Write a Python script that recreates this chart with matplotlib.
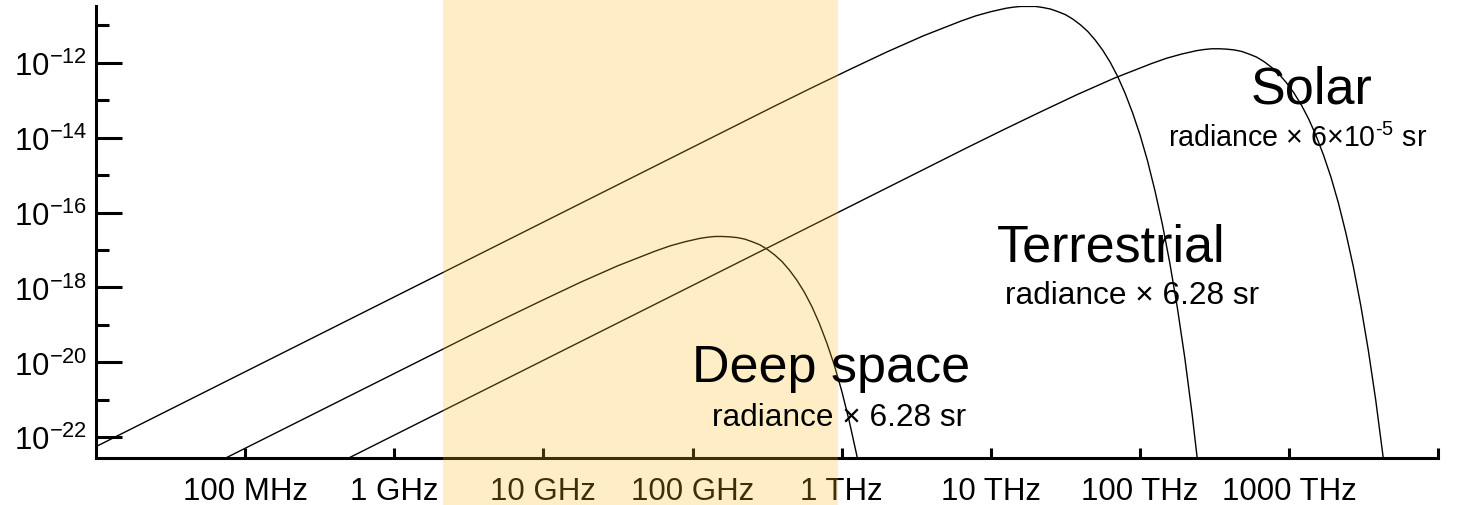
import matplotlib
matplotlib.use("Agg")
import numpy as np
import matplotlib.pyplot as plt
from matplotlib.ticker import FixedLocator, NullLocator, NullFormatter

plt.rcParams.update({
    "font.family": ["Liberation Sans", "DejaVu Sans"],
    "mathtext.fontset": "custom",
    "mathtext.rm": "Liberation Sans",
    "mathtext.it": "Liberation Sans:italic",
    "mathtext.bf": "Liberation Sans:bold",
    "mathtext.default": "regular",
})

# ----------------------------------------------------------------------
# Values (log10 frequency [Hz], log10 spectral value)
# ----------------------------------------------------------------------
deep_lognu = [7.00, 9.25, 9.50, 9.75, 10.00, 10.25, 10.50, 10.75, 10.85, 10.95,
              11.05, 11.10, 11.15, 11.20, 11.25, 11.30, 11.35, 11.40, 11.45,
              11.50, 11.55, 11.60, 11.65, 11.70, 11.75, 11.80, 11.85, 11.90,
              11.95, 12.00, 12.05, 12.10, 12.15]
deep_logval = [-24.29, -19.80, -19.30, -18.81, -18.33, -17.86, -17.42, -17.03,
               -16.89, -16.78, -16.69, -16.66, -16.64, -16.64, -16.65, -16.67,
               -16.71, -16.78, -16.86, -16.98, -17.13, -17.31, -17.54, -17.81,
               -18.13, -18.51, -18.96, -19.48, -20.07, -20.76, -21.56, -22.46,
               -23.50]

terr_lognu = [7.00, 11.30, 11.55, 11.80, 12.05, 12.30, 12.55, 12.80, 12.90,
              13.00, 13.10, 13.15, 13.20, 13.25, 13.30, 13.35, 13.40, 13.45,
              13.50, 13.55, 13.60, 13.65, 13.70, 13.75, 13.80, 13.85, 13.90,
              13.95, 14.00, 14.05, 14.10, 14.15, 14.20, 14.25, 14.30, 14.35,
              14.40]
terr_logval = [-22.25, -13.66, -13.16, -12.67, -12.19, -11.72, -11.28, -10.89,
               -10.75, -10.64, -10.55, -10.52, -10.50, -10.50, -10.50, -10.53,
               -10.57, -10.64, -10.72, -10.84, -10.99, -11.17, -11.40, -11.67,
               -11.99, -12.37, -12.82, -13.34, -13.93, -14.62, -15.42, -16.32,
               -17.36, -18.54, -19.88, -21.41, -23.14]

solar_lognu = [7.00, 12.58, 12.83, 13.08, 13.33, 13.58, 13.83, 14.08, 14.18,
               14.28, 14.38, 14.43, 14.48, 14.53, 14.58, 14.63, 14.68, 14.73,
               14.78, 14.83, 14.88, 14.93, 14.98, 15.03, 15.08, 15.13, 15.18,
               15.23, 15.28, 15.33, 15.38, 15.43, 15.48, 15.53, 15.58, 15.63,
               15.68]
solar_logval = [-25.94, -14.79, -14.29, -13.80, -13.32, -12.85, -12.41, -12.02,
                -11.88, -11.77, -11.68, -11.65, -11.63, -11.63, -11.64, -11.66,
                -11.70, -11.77, -11.85, -11.97, -12.12, -12.30, -12.53, -12.80,
                -13.12, -13.50, -13.95, -14.47, -15.06, -15.75, -16.55, -17.45,
                -18.49, -19.67, -21.01, -22.54, -24.27]

band_lognu = [9.33, 11.975]          # shaded band

x_tick_exp = [8, 9, 10, 11, 12, 13, 14, 15, 16]
x_tick_labels = ["100 MHz", "1 GHz", "10 GHz", "100 GHz", "1 THz",
                 "10 THz", "100 THz", "1000 THz", ""]
y_major_exp = [-22, -20, -18, -16, -14, -12]
y_minor_exp = [-21, -19, -17, -15, -13, -11]

# ----------------------------------------------------------------------
fig = plt.figure(figsize=(14.7, 5.06), dpi=100)
ax = fig.add_axes([0.0652, 0.0923, 0.9133, 0.8945])

for lnu, lval in [(terr_lognu, terr_logval),
                  (deep_lognu, deep_logval),
                  (solar_lognu, solar_logval)]:
    ax.plot(10.0 ** np.array(lnu), 10.0 ** np.array(lval),
            color="k", lw=1.0, zorder=2)

ax.set_xscale("log")
ax.set_yscale("log")
ax.set_xlim(1e7, 1e16)
ax.set_ylim(10 ** -22.56, 10 ** -10.48)

# yellow band, drawn over axis and tick labels, under annotations
ax.axvspan(10 ** band_lognu[0], 10 ** band_lognu[1], ymin=-0.11, ymax=1.02,
           clip_on=False, facecolor=(1.0, 0.75, 0.10), alpha=0.25, lw=0,
           zorder=3)

ax.xaxis.set_major_locator(FixedLocator([10.0 ** e for e in x_tick_exp]))
ax.xaxis.set_minor_locator(NullLocator())
ax.set_xticklabels(x_tick_labels)

ax.yaxis.set_major_locator(FixedLocator([10.0 ** e for e in y_major_exp]))
ax.yaxis.set_minor_locator(FixedLocator([10.0 ** e for e in y_minor_exp]))
ax.set_yticklabels([r"$10^{%d}$" % e for e in y_major_exp])
ax.yaxis.set_minor_formatter(NullFormatter())

for s in ["top", "right"]:
    ax.spines[s].set_visible(False)
for s in ["left", "bottom"]:
    ax.spines[s].set_linewidth(2.2)

ax.tick_params(axis="y", which="major", direction="in", length=19,
               width=2.2, pad=6, labelsize=22.5)
ax.tick_params(axis="y", which="minor", direction="in", length=9.5,
               width=2.2)
ax.tick_params(axis="x", which="major", direction="in", length=7,
               width=2.2, pad=13, labelsize=22.5)

# labels
big = 37.5
small = 22.8
ax.text(10 ** 14.743, 10 ** -13.067, "Solar", fontsize=big,
        ha="left", va="baseline", zorder=4)
ax.text(10 ** 14.186, 10 ** -14.224, r"radiance × 6×10$^{\text{-5}}$ sr",
        fontsize=20.6, ha="left", va="baseline", zorder=4)
ax.text(10 ** 13.040, 10 ** -17.291, "Terrestrial", fontsize=big,
        ha="left", va="baseline", zorder=4)
ax.text(10 ** 13.094, 10 ** -18.419, "radiance × 6.28 sr",
        fontsize=small, ha="left", va="baseline", zorder=4)
ax.text(10 ** 10.994, 10 ** -20.491, "Deep space", fontsize=big,
        ha="left", va="baseline", zorder=4)
ax.text(10 ** 11.128, 10 ** -21.672, "radiance × 6.28 sr",
        fontsize=small, ha="left", va="baseline", zorder=4)

fig.savefig("out.png", dpi=100)
